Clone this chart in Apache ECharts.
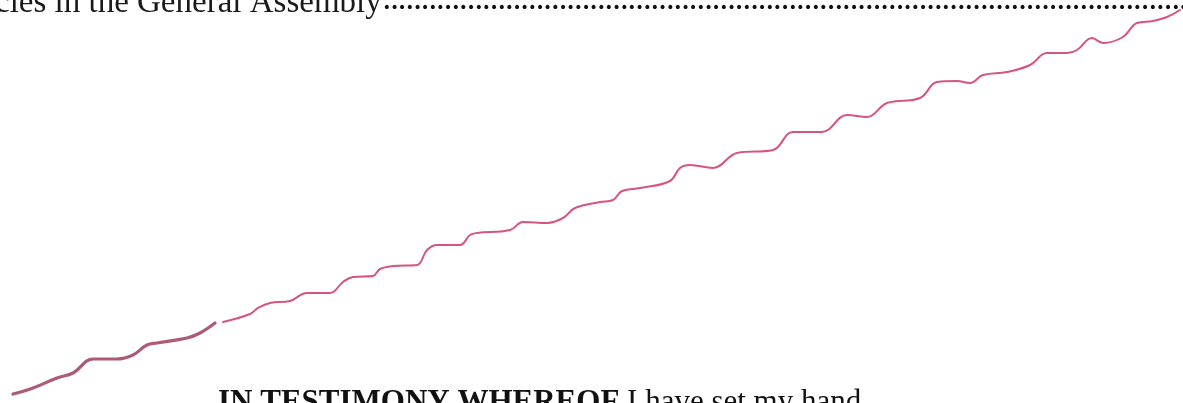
<!DOCTYPE html>
<html><head><meta charset="utf-8">
<script src="https://cdn.jsdelivr.net/npm/echarts@6/dist/echarts.min.js"></script>
<style>html,body{margin:0;padding:0;background:#fff}#c{width:1183px;height:403px}</style>
</head><body><div id="c"></div>
<script>
// traced signature stroke (page pixel coordinates)
const strokeAX = [13,33,57,73,93,117,133,147,157,187,200,215];
const strokeAY = [394,388,378,373,359,359,355,345,343,338,333,323];
const strokeBX = [223,250,258,270,290,307,330,343,353,373,380,393,417,427,437,460,470,477,510,523,547,563,575,600,613,622,640,670,680,690,713,737,773,793,822,847,867,887,920,937,957,970,983,1007,1030,1047,1067,1077,1092,1103,1123,1137,1153,1167,1180];
const strokeBY = [322,314,308,303,301,293,293,282,277,276,269,266,265,250,245,245,235,233,230,222,223,218,208,202,200,191,188,181,168,165,168,153,150,132,132,115,117,103,98,82,81,83,75,72,65,53,53,50,38,43,37,23,21,17,10];
const topText = 'cles in the General Assembly';
const bottomBold = 'IN TESTIMONY WHEREOF';
const bottomRegular = ' I have set my hand';

const zip = (xs, ys) => xs.map((x, i) => [x, ys[i]]);
const chart = echarts.init(document.getElementById('c'), null, {renderer: 'canvas'});
chart.setOption({
  animation: false,
  backgroundColor: '#ffffff',
  grid: {left: 0, right: 0, top: 0, bottom: 0},
  xAxis: {type: 'value', min: 0, max: 1183, show: false},
  yAxis: {type: 'value', min: 0, max: 403, inverse: true, show: false},
  series: [
    {type: 'line', data: zip(strokeAX, strokeAY), smooth: 0.4, showSymbol: false,
     lineStyle: {color: '#ad5a76', width: 3.2, cap: 'round'}},
    {type: 'line', data: zip(strokeBX, strokeBY), smooth: 0.4, showSymbol: false,
     lineStyle: {color: '#d65384', width: 2, cap: 'round'}}
  ],
  graphic: [
    {type: 'text', left: -5, top: -13, style: {text: topText, font: '33px "Liberation Serif", serif', fill: '#1a1a1a'}},
    {type: 'text', left: 383, top: -8, style: {text: '.'.repeat(108), font: 'bold 22px "DejaVu Serif", serif', fill: '#111'}},
    {type: 'text', left: 218, top: 387, style: {rich: {b: {font: 'bold 31px "Liberation Serif", serif', fill: '#111'}, r: {font: '31px "Liberation Serif", serif', fill: '#111'}}, text: '{b|' + bottomBold + '}{r|' + bottomRegular + '}'}}
  ]
});
</script></body></html>
